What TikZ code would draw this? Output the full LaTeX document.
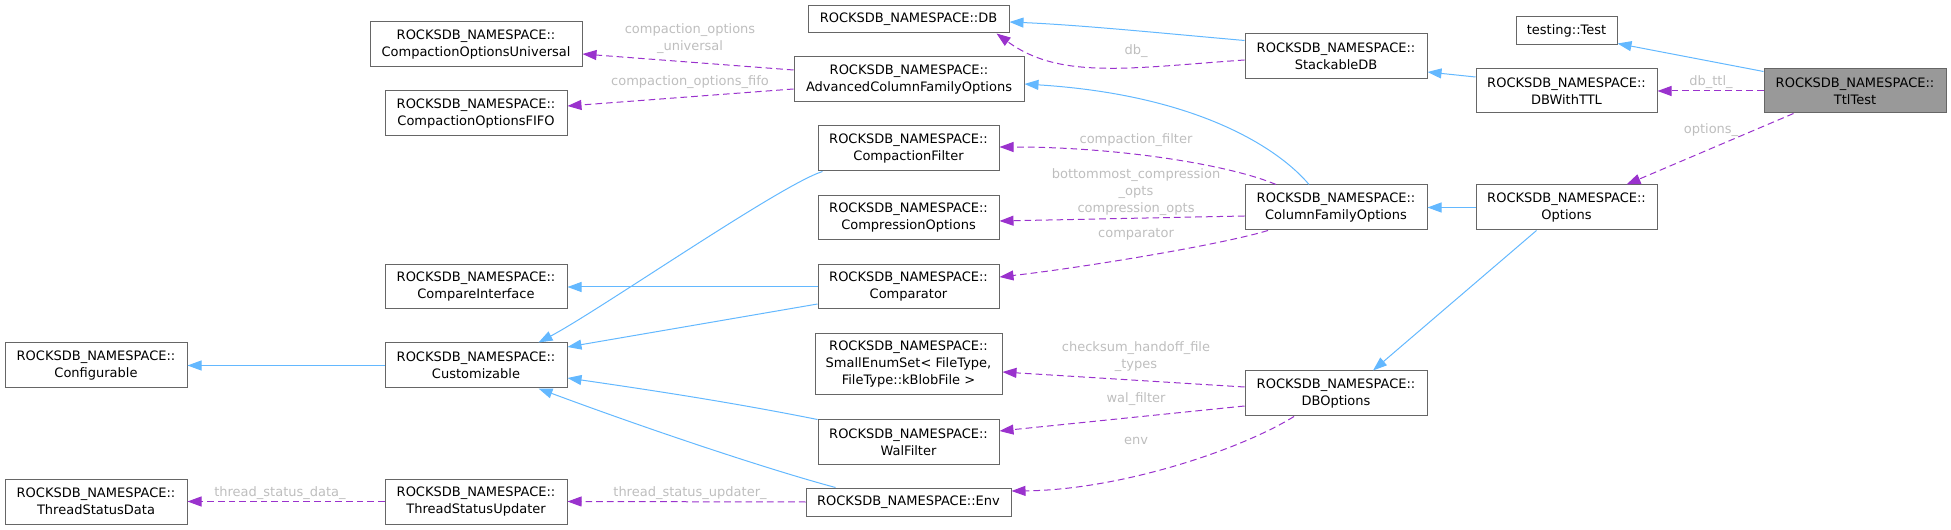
\documentclass[tikz,border=0pt]{standalone}
\usepackage{fontspec}
\setmainfont{DejaVu Sans}
\usetikzlibrary{arrows.meta,calc}
\definecolor{inhblue}{HTML}{63B8FF}
\definecolor{usepurple}{HTML}{9A32CD}
\definecolor{lblgray}{HTML}{BEBEBE}
\definecolor{boxgray}{HTML}{666666}
\definecolor{mainfill}{HTML}{999999}
\begin{document}
\begin{tikzpicture}[x=0.75pt,y=-0.75pt,
  every node/.style={font=\fontsize{9.75pt}{12.75pt}\selectfont},
  cls/.style 2 args={draw=boxgray, line width=0.75pt, fill=white, inner sep=0pt, align=center,
     minimum width=#1*0.75pt, minimum height=#2*0.75pt},
  lbl/.style={text=lblgray, inner sep=0pt, align=center},
  inh/.style={draw=inhblue, line width=0.75pt, -{Triangle[length=10.5pt,width=7.5pt]}},
  use/.style={draw=usepurple, line width=0.75pt, dash pattern=on 5pt off 3pt, -{Triangle[length=10.5pt,width=7.5pt]}}]
\useasboundingbox (0,0) rectangle (1951,530);

% nodes
\node[cls={101}{28}] (test) at (1566.5,31) {testing::Test};
\node[cls={182}{44}, fill=mainfill] (ttl) at (1855,91) {ROCKSDB\_NAMESPACE::\\TtlTest};
\node[cls={181}{44}] (dbttl) at (1566.5,91) {ROCKSDB\_NAMESPACE::\\DBWithTTL};
\node[cls={181}{45}] (opts) at (1566.5,207.5) {ROCKSDB\_NAMESPACE::\\Options};
\node[cls={182}{45}] (sdb) at (1336,56.5) {ROCKSDB\_NAMESPACE::\\StackableDB};
\node[cls={182}{45}] (cfo) at (1336,207.5) {ROCKSDB\_NAMESPACE::\\ColumnFamilyOptions};
\node[cls={182}{45}] (dbo) at (1336,393.5) {ROCKSDB\_NAMESPACE::\\DBOptions};
\node[cls={201}{27}] (db) at (908.5,19.5) {ROCKSDB\_NAMESPACE::DB};
\node[cls={230}{45}] (acfo) at (909,79.5) {ROCKSDB\_NAMESPACE::\\AdvancedColumnFamilyOptions};
\node[cls={181}{45}] (cf) at (908.5,148.5) {ROCKSDB\_NAMESPACE::\\CompactionFilter};
\node[cls={181}{44}] (co) at (908.5,218) {ROCKSDB\_NAMESPACE::\\CompressionOptions};
\node[cls={181}{44}] (cmp) at (908.5,287) {ROCKSDB\_NAMESPACE::\\Comparator};
\node[cls={187}{61}] (ses) at (908.5,364.5) {ROCKSDB\_NAMESPACE::\\SmallEnumSet< FileType,\\ FileType::kBlobFile >};
\node[cls={181}{44}] (wal) at (908.5,442) {ROCKSDB\_NAMESPACE::\\WalFilter};
\node[cls={205}{28}] (env) at (908.5,502) {ROCKSDB\_NAMESPACE::Env};
\node[cls={212}{45}] (cou) at (476,44.5) {ROCKSDB\_NAMESPACE::\\CompactionOptionsUniversal};
\node[cls={182}{45}] (cof) at (476,113.5) {ROCKSDB\_NAMESPACE::\\CompactionOptionsFIFO};
\node[cls={182}{44}] (ci) at (476,287) {ROCKSDB\_NAMESPACE::\\CompareInterface};
\node[cls={182}{45}] (cust) at (476,365.5) {ROCKSDB\_NAMESPACE::\\Customizable};
\node[cls={182}{45}] (tsu) at (476,501.5) {ROCKSDB\_NAMESPACE::\\ThreadStatusUpdater};
\node[cls={182}{45}] (conf) at (96,365.5) {ROCKSDB\_NAMESPACE::\\Configurable};
\node[cls={182}{45}] (tsd) at (96,501.5) {ROCKSDB\_NAMESPACE::\\ThreadStatusData};

% inheritance edges
\draw[inh] ($(ttl.north west)+(0,3)$) -- ($(test.south east)+(0,-2)$);
\draw[inh] ($(dbttl.west)+(0,-14)$) -- ($(sdb.east)+(0,15.5)$);
\draw[inh] ($(sdb.north west)+(0,7)$) .. controls (1160,33) and (1080,25) .. ($(db.east)+(0,2.5)$);
\draw[inh] (opts.west) -- (cfo.east);
\draw[inh] ($(opts.south west)+(61,0)$) -- ($(dbo.north)+(37,0)$);
\draw[inh] ($(cfo.north)+(-27,0)$) .. controls (1280,150) and (1200,95) .. ($(acfo.east)+(0,4.5)$);
\draw[inh] (cmp.west) -- (ci.east);
\draw[inh] ($(cmp.west)+(0,17)$) -- ($(cust.east)+(0,-18.5)$);
\draw[inh] (wal.north west) .. controls (730,402) and (650,390) .. ($(cust.east)+(0,12.5)$);
\draw[inh] ($(env.north west)+(30,0)$) .. controls (770,470) and (650,430) .. ($(cust.south east)+(-29,0)$);
\draw[inh] ($(cf.south west)+(5,0)$) .. controls (780,185) and (600,310) .. ($(cust.north east)+(-29,0)$);
\draw[inh] (cust.west) -- (conf.east);

% usage edges
\draw[use] (ttl.west) -- (dbttl.east);
\draw[use] ($(ttl.south west)+(30,0)$) -- ($(opts.north east)+(-31,0)$);
\draw[use] ($(sdb.west)+(0,3.5)$) .. controls (1130,68) and (1060,80) .. ($(db.south east)+(-13,0)$);
\draw[use] ($(acfo.west)+(0,-9.5)$) -- ($(cou.east)+(0,9.5)$);
\draw[use] ($(acfo.west)+(0,9.5)$) -- ($(cof.east)+(0,-7.5)$);
\draw[use] ($(cfo.north)+(-60,0)$) .. controls (1230,165) and (1120,147) .. ($(cf.east)+(0,-1.5)$);
\draw[use] ($(cfo.west)+(0,8.5)$) -- ($(co.east)+(0,3)$);
\draw[use] ($(cfo.south)+(-68,0)$) .. controls (1220,245) and (1080,268) .. ($(cmp.east)+(0,-10)$);
\draw[use] ($(dbo.west)+(0,-6.5)$) -- ($(ses.east)+(0,7.5)$);
\draw[use] ($(dbo.west)+(0,12.5)$) -- ($(wal.east)+(0,-11)$);
\draw[use] ($(dbo.south)+(-42,0)$) .. controls (1240,450) and (1120,490) .. ($(env.east)+(0,-11)$);
\draw[use] (env.west) -- (tsu.east);
\draw[use] (tsu.west) -- (tsd.east);

% edge labels
\node[lbl] (ldbttl) at (1711,82) {db\_ttl\_};
\node[lbl] (lopts) at (1711,130) {options\_};
\node[lbl] (ldb) at (1136,51) {db\_};
\node[lbl] (lcou) at (690,38.5) {compaction\_options\\\_universal};
\node[lbl] (lcof) at (690,82) {compaction\_options\_fifo};
\node[lbl] (lcf) at (1136,140) {compaction\_filter};
\node[lbl] (lco) at (1136,192.5) {bottommost\_compression\\\_opts\\compression\_opts};
\node[lbl] (lcmp) at (1136,234) {comparator};
\node[lbl] (lses) at (1136,356.5) {checksum\_handoff\_file\\\_types};
\node[lbl] (lwal) at (1136,399) {wal\_filter};
\node[lbl] (lenv) at (1136,441) {env};
\node[lbl] (ltsu) at (690,493) {thread\_status\_updater\_};
\node[lbl] (ltsd) at (280,493) {thread\_status\_data\_};
\end{tikzpicture}
\end{document}
